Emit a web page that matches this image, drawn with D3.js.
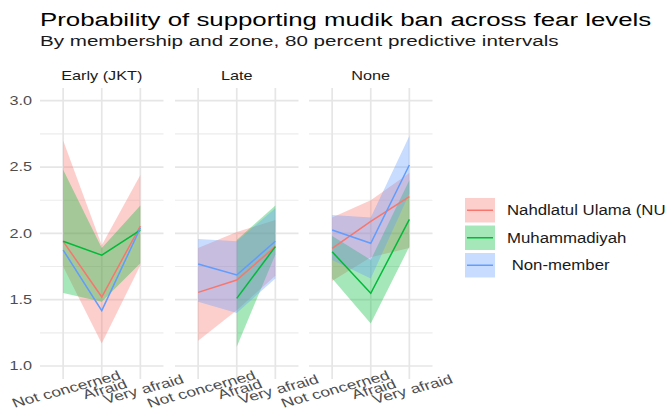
<!DOCTYPE html>
<html>
<head>
<meta charset="utf-8">
<script src="https://cdn.jsdelivr.net/npm/d3@7"></script>
<style>
  html, body { margin: 0; padding: 0; background: #fff; }
  svg { display: block; font-family: "Liberation Sans", Arial, Helvetica, sans-serif; }
</style>
</head>
<body>
<div id="chart"></div>
<script>
// Facets, x categories and groups
const zones = ["Early (JKT)", "Late", "None"];
const fearLevels = ["Not concerned", "Afraid", "Very afraid"];
const groups = ["Nahdlatul Ulama (NU)", "Muhammadiyah", "Non-member"];
const groupLabels = ["Nahdlatul Ulama (NU)", "Muhammadiyah", " Non-member"];
const groupColors = ["#F8766D", "#00BA38", "#619CFF"];
const yTicks = [1.0, 1.5, 2.0, 2.5, 3.0];

// Predicted means and 80% interval bounds, one array per zone (order: fearLevels)
const nuMean = [[1.94, 1.52, 2.055], [1.555, 1.648, 1.90], [1.886, 2.09, 2.276]];
const nuLower = [[1.75, 1.17, 1.76], [1.19, 1.42, 1.68], [1.64, 1.82, 1.89]];
const nuUpper = [[2.70, 1.91, 2.44], [1.89, 2.01, 2.10], [2.12, 2.25, 2.455]];

const muMean = [[1.94, 1.836, 2.025], [null, 1.51, 1.90], [1.861, 1.548, 2.105]];
const muLower = [[1.55, 1.485, 1.775], [null, 1.146, 1.84], [1.66, 1.32, 1.90]];
const muUpper = [[2.48, 1.89, 2.21], [null, 1.95, 2.21], [1.98, 1.80, 2.40]];

const nmMean = [[1.874, 1.417, 2.04], [1.769, 1.686, 1.94], [2.025, 1.925, 2.515]];
const nmLower = [[null, null, null], [1.485, 1.40, 1.66], [1.80, 1.66, 2.30]];
const nmUpper = [[null, null, null], [1.957, 1.94, 2.19], [2.138, 2.12, 2.733]];

const means = [nuMean, muMean, nmMean];
const lowers = [nuLower, muLower, nmLower];
const uppers = [nuUpper, muUpper, nmUpper];

const W = 665, H = 419;
const svg = d3.select("#chart").append("svg").attr("width", W).attr("height", H);

// Text drawn with a slight horizontal stretch
function label(parent, x, y, str, o) {
  const t = parent.append("text")
    .attr("transform", `translate(${x},${y}) scale(${o.sx || 1},1) rotate(${o.rot || 0})`)
    .attr("text-anchor", o.anchor || "start")
    .attr("fill", o.fill || "#000")
    .style("font-size", o.size + "px")
    .style("white-space", "pre")
    .text(str);
  if (o.baseline) t.attr("dominant-baseline", o.baseline);
  return t;
}

label(svg, 40, 25.5, "Probability of supporting mudik ban across fear levels", { size: 19, sx: 1.36 });
label(svg, 40, 46, "By membership and zone, 80 percent predictive intervals", { size: 15.5, sx: 1.33, fill: "#1a1a1a" });

const panelLeft = [40, 175, 309];
const panelW = 123.5;
const panelTop = 88, panelBottom = 379;

const y = d3.scaleLinear().domain([1, 3]).range([366, 100.7]);

// Y axis labels (left of first panel)
yTicks.forEach(v => {
  label(svg, 32, y(v), d3.format(".1f")(v), { size: 12.5, sx: 1.3, anchor: "end", baseline: "central", fill: "#4d4d4d" });
});

zones.forEach((zone, zi) => {
  const x = d3.scalePoint().domain(fearLevels).range([panelLeft[zi], panelLeft[zi] + panelW]).padding(0.6);
  const g = svg.append("g");

  // minor grid
  d3.range(1.25, 3.0, 0.5).forEach(v => {
    g.append("line").attr("x1", panelLeft[zi]).attr("x2", panelLeft[zi] + panelW)
      .attr("y1", y(v)).attr("y2", y(v)).attr("stroke", "#ececec").attr("stroke-width", 1.1);
  });
  // major grid
  yTicks.forEach(v => {
    g.append("line").attr("x1", panelLeft[zi]).attr("x2", panelLeft[zi] + panelW)
      .attr("y1", y(v)).attr("y2", y(v)).attr("stroke", "#e6e6e6").attr("stroke-width", 1.7);
  });
  fearLevels.forEach(f => {
    g.append("line").attr("x1", x(f)).attr("x2", x(f))
      .attr("y1", panelTop).attr("y2", panelBottom).attr("stroke", "#e6e6e6").attr("stroke-width", 1.7);
  });

  // strip label
  label(svg, panelLeft[zi] + panelW / 2, 80, zone, { size: 13, sx: 1.25, anchor: "middle", fill: "#1a1a1a" });

  // x tick labels
  fearLevels.forEach(f => {
    label(svg, x(f) + 3, 389, f, { size: 13, sx: 1.35, rot: -20, anchor: "middle", baseline: "central", fill: "#4d4d4d" });
  });

  // ribbons
  groups.forEach((grp, gi) => {
    const rows = fearLevels.map((f, i) => ({ f, lo: lowers[gi][zi][i], hi: uppers[gi][zi][i] }));
    const area = d3.area()
      .defined(d => d.lo != null && d.hi != null)
      .x(d => x(d.f)).y0(d => y(d.lo)).y1(d => y(d.hi));
    g.append("path").datum(rows).attr("d", area)
      .attr("fill", groupColors[gi]).attr("fill-opacity", 0.35).attr("stroke", "none");
  });

  // lines
  groups.forEach((grp, gi) => {
    const rows = fearLevels.map((f, i) => ({ f, v: means[gi][zi][i] }));
    const line = d3.line().defined(d => d.v != null).x(d => x(d.f)).y(d => y(d.v));
    g.append("path").datum(rows).attr("d", line)
      .attr("fill", "none").attr("stroke", groupColors[gi]).attr("stroke-width", 1.5);
  });
});

// Legend
const keyX = 465, keyW = 30, keyH = 24.5;
const keyTops = [198, 225.5, 253];
groups.forEach((grp, gi) => {
  const top = keyTops[gi];
  svg.append("rect").attr("x", keyX).attr("y", top).attr("width", keyW).attr("height", keyH)
    .attr("fill", groupColors[gi]).attr("fill-opacity", 0.35);
  svg.append("line").attr("x1", keyX + 2).attr("x2", keyX + keyW - 2)
    .attr("y1", top + keyH / 2).attr("y2", top + keyH / 2)
    .attr("stroke", groupColors[gi]).attr("stroke-width", 1.5);
  label(svg, 507, top + keyH / 2, groupLabels[gi], { size: 15, sx: 1.12, baseline: "central", fill: "#1a1a1a" });
});
</script>
</body>
</html>
